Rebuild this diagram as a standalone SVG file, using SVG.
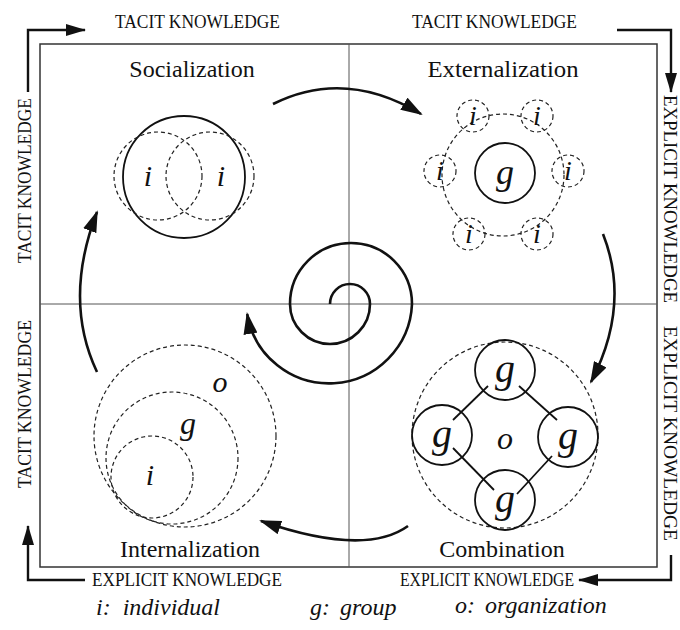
<svg xmlns="http://www.w3.org/2000/svg" width="680" height="630" viewBox="0 0 680 630">
<style>
.t{font-family:"Liberation Serif","Times New Roman",serif;fill:#111}
.lab{font-size:18px}
.title{font-size:24px;text-anchor:middle}
.it{font-family:"Liberation Serif","Times New Roman",serif;font-style:italic;fill:#111;text-anchor:middle}
.leg{font-family:"Liberation Serif","Times New Roman",serif;font-style:italic;fill:#111;font-size:24px}
.dash{fill:none;stroke:#222;stroke-width:1.2;stroke-dasharray:4 3}
.sol{fill:none;stroke:#111;stroke-width:1.8}
.arc{fill:none;stroke:#111;stroke-width:2.6}
.corner{fill:none;stroke:#111;stroke-width:2.4}
.grid{stroke:#555;stroke-width:1}
</style>
<defs>
<marker id="ah" markerUnits="userSpaceOnUse" markerWidth="22" markerHeight="14" refX="20" refY="7" orient="auto">
<path d="M0,0 L22,7 L0,14 z" fill="#111"/>
</marker>
<marker id="ch" markerUnits="userSpaceOnUse" markerWidth="20" markerHeight="12" refX="19" refY="6" orient="auto">
<path d="M0,0 L20,6 L0,12 z" fill="#111"/>
</marker>
</defs>
<rect width="680" height="630" fill="#fff"/>

<g id="frame">
<rect x="40" y="44" width="617" height="523" fill="none" stroke="#333" stroke-width="1.5"/>
<line class="grid" x1="349" y1="44" x2="349" y2="567"/>
<line class="grid" x1="40" y1="304" x2="657" y2="304"/>
</g>

<g id="axis-labels">
<text class="t lab" x="115" y="28" textLength="165" lengthAdjust="spacingAndGlyphs">TACIT KNOWLEDGE</text>
<text class="t lab" x="412" y="28" textLength="165" lengthAdjust="spacingAndGlyphs">TACIT KNOWLEDGE</text>
<text class="t lab" transform="translate(31,263) rotate(-90)" textLength="165" lengthAdjust="spacingAndGlyphs">TACIT KNOWLEDGE</text>
<text class="t lab" transform="translate(31,488) rotate(-90)" textLength="168" lengthAdjust="spacingAndGlyphs">TACIT KNOWLEDGE</text>
<text class="t lab" transform="translate(664,95) rotate(90)" textLength="208" lengthAdjust="spacingAndGlyphs">EXPLICIT KNOWLEDGE</text>
<text class="t lab" transform="translate(664,326) rotate(90)" textLength="215" lengthAdjust="spacingAndGlyphs">EXPLICIT KNOWLEDGE</text>
<text class="t lab" x="92" y="586" textLength="190" lengthAdjust="spacingAndGlyphs">EXPLICIT KNOWLEDGE</text>
<text class="t lab" x="400" y="586" textLength="174" lengthAdjust="spacingAndGlyphs">EXPLICIT KNOWLEDGE</text>
</g>

<g id="corner-arrows">
<path class="corner" d="M28,92 V30 H85" marker-end="url(#ch)"/>
<path class="corner" d="M617,30 H671 V92" marker-end="url(#ch)"/>
<path class="corner" d="M671,555 V580 H579" marker-end="url(#ch)"/>
<path class="corner" d="M85,580 H28 V526" marker-end="url(#ch)"/>
</g>

<g id="socialization">
<text class="t title" x="192" y="77">Socialization</text>
<circle class="sol" cx="184" cy="177" r="61" stroke-width="1.3"/>
<circle class="dash" cx="158" cy="176" r="44"/>
<circle class="dash" cx="210" cy="176" r="44"/>
<text class="it" x="148" y="186" font-size="30">i</text>
<text class="it" x="221" y="186" font-size="30">i</text>
</g>

<g id="externalization">
<text class="t title" x="503" y="77" textLength="151" lengthAdjust="spacingAndGlyphs">Externalization</text>
<circle class="dash" cx="503" cy="175" r="61"/>
<circle class="sol" cx="505" cy="173" r="30" stroke-width="2"/>
<text class="it" x="505" y="184" font-size="36">g</text>
<circle class="dash" cx="473" cy="116" r="16"/>
<circle class="dash" cx="537" cy="116" r="16"/>
<circle class="dash" cx="440" cy="171" r="16"/>
<circle class="dash" cx="568" cy="171" r="16"/>
<circle class="dash" cx="469" cy="234" r="16"/>
<circle class="dash" cx="537" cy="234" r="16"/>
<text class="it" x="473" y="125" font-size="28">i</text>
<text class="it" x="537" y="125" font-size="28">i</text>
<text class="it" x="440" y="180" font-size="28">i</text>
<text class="it" x="568" y="180" font-size="28">i</text>
<text class="it" x="469" y="243" font-size="28">i</text>
<text class="it" x="537" y="243" font-size="28">i</text>
</g>

<g id="combination">
<text class="t title" x="502" y="557">Combination</text>
<circle class="dash" cx="505" cy="435" r="93"/>
<circle class="sol" cx="505" cy="370" r="30"/>
<circle class="sol" cx="442" cy="435" r="30"/>
<circle class="sol" cx="568" cy="437" r="30"/>
<circle class="sol" cx="505" cy="500" r="30"/>
<line class="sol" x1="488" y1="386" x2="453" y2="420"/>
<line class="sol" x1="519" y1="386" x2="557" y2="420"/>
<line class="sol" x1="453" y1="448" x2="494" y2="490"/>
<line class="sol" x1="552" y1="456" x2="517" y2="494"/>
<text class="it" x="505" y="382" font-size="40">g</text>
<text class="it" x="442" y="447" font-size="40">g</text>
<text class="it" x="568" y="449" font-size="40">g</text>
<text class="it" x="505" y="512" font-size="40">g</text>
<text class="it" x="505" y="449" font-size="32">o</text>
</g>

<g id="internalization">
<text class="t title" x="190" y="557">Internalization</text>
<circle class="dash" cx="185" cy="436" r="91"/>
<circle class="dash" cx="172" cy="458" r="66"/>
<circle class="dash" cx="152" cy="477" r="41"/>
<text class="it" x="220" y="392" font-size="30">o</text>
<text class="it" x="188" y="434" font-size="32">g</text>
<text class="it" x="150" y="485" font-size="30">i</text>
</g>

<g id="connectors">
<path class="arc" d="M273,104 Q345,68 421,114" marker-end="url(#ah)"/>
<path class="arc" d="M603,234 Q631,305 591,382" marker-end="url(#ah)"/>
<path class="arc" d="M408,526 Q365,557 261,521" marker-end="url(#ah)"/>
<path class="arc" d="M97,372 Q63,300 97,212" marker-end="url(#ah)"/>
<path class="arc" d="M330,304 A20,20 0 0 1 370,304 A40,40 0 0 1 290,304 A61,61 0 0 1 412,304 A83,83 0 0 1 247.2,314" marker-end="url(#ah)"/>
</g>

<g id="legend">
<text class="leg" x="96" y="615">i:<tspan dx="12">individual</tspan></text>
<text class="leg" x="310" y="615">g:<tspan dx="10">group</tspan></text>
<text class="leg" x="455" y="613">o:<tspan dx="10">organization</tspan></text>
</g>
</svg>
